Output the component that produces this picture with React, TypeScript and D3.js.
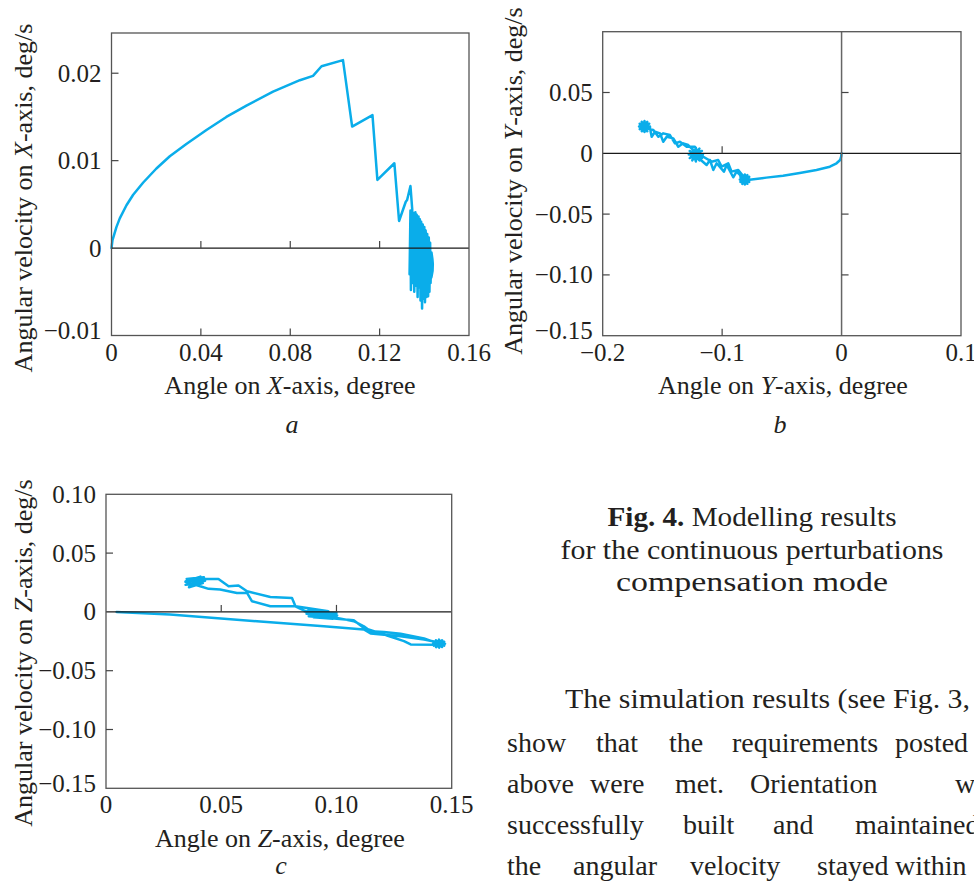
import React from 'react'
import * as d3 from 'd3'

// phase trajectories, [angle (deg), angular velocity (deg/s)]
const xPhase: [number, number][] = [
  [0, 0], [0.00045, 0.0009], [0.0022, 0.0024], [0.0037, 0.0034], [0.0067, 0.0049], [0.0097, 0.0061],
  [0.0142, 0.0075], [0.0201, 0.0091], [0.0261, 0.0105], [0.0335, 0.0119], [0.0425, 0.0135],
  [0.0514, 0.015], [0.0604, 0.0163], [0.0723, 0.0179], [0.0843, 0.0192], [0.0902, 0.0197],
  [0.094, 0.0208], [0.1036, 0.0215], [0.1077, 0.0139], [0.1168, 0.0152], [0.119, 0.0078],
  [0.1266, 0.0097], [0.1287, 0.0031], [0.1317, 0.0053], [0.1323, 0.0055], [0.1338, 0.0071],
  [0.1346, 0.0044], [0.1334, -0.003], [0.1338, 0.0043], [0.134, -0.0048], [0.1345, 0.0042],
  [0.1348, -0.004], [0.1352, 0.004], [0.1355, -0.005], [0.136, 0.0041], [0.1363, -0.0043],
  [0.1366, 0.0038], [0.137, -0.0056], [0.1374, 0.0036], [0.1377, -0.0045], [0.138, 0.0033],
  [0.1383, -0.006], [0.1386, 0.003], [0.139, -0.0069], [0.1393, 0.0027], [0.1396, -0.0058],
  [0.14, 0.0024], [0.1403, -0.0062], [0.1406, 0.002], [0.141, -0.0056], [0.1413, 0.0016],
  [0.1417, -0.0055], [0.142, 0.0012], [0.1423, -0.005], [0.1426, 0.0006], [0.1428, -0.004],
  [0.1432, -0.0005], [0.1436, -0.0012], [0.1438, -0.0018], [0.1437, -0.0026], [0.1432, -0.0033],
  [0.1427, -0.0036],
]

const yPhase: [number, number][] = [
  [0, 0], [-0.0003, -0.0025], [-0.0012, -0.0055], [-0.0042, -0.0082], [-0.0098, -0.011],
  [-0.021, -0.0137], [-0.035, -0.0162], [-0.049, -0.0184], [-0.063, -0.02], [-0.077, -0.0217],
  // dwell near (-0.081, -0.0215)
  [-0.0768, -0.0215], [-0.0852, -0.0215], [-0.0773, -0.0194], [-0.0847, -0.0236],
  [-0.0789, -0.0179], [-0.0831, -0.0251], [-0.081, -0.0174], [-0.081, -0.0256],
  [-0.0831, -0.0179], [-0.0789, -0.0251], [-0.0847, -0.0194], [-0.0773, -0.0236],
  [-0.0851, -0.0178], [-0.0879, -0.0151], [-0.0907, -0.0197], [-0.0962, -0.0096], [-0.0985, -0.0151],
  [-0.1046, -0.0082], [-0.1074, -0.0137], [-0.1102, -0.0055], [-0.113, -0.0096], [-0.1186, -0.0049],
  // dwell near (-0.122, -0.001)
  [-0.1161, -0.001], [-0.1279, -0.001], [-0.1169, 0.0019], [-0.1271, -0.0039],
  [-0.119, 0.0039], [-0.125, -0.0059], [-0.122, 0.0047], [-0.122, -0.0067],
  [-0.125, 0.0039], [-0.119, -0.0059], [-0.1271, 0.0019], [-0.1169, -0.0039],
  [-0.1242, 0.0027], [-0.1284, 0.0068], [-0.1326, 0.0082], [-0.1367, 0.0054], [-0.1409, 0.0123],
  [-0.1464, 0.0136], [-0.1493, 0.0095], [-0.152, 0.0164], [-0.1562, 0.0177], [-0.159, 0.0136],
  [-0.1604, 0.0205],
  // dwell near (-0.165, 0.022)
  [-0.1604, 0.022], [-0.1696, 0.022], [-0.161, 0.0243], [-0.169, 0.0198],
  [-0.1627, 0.0259], [-0.1673, 0.0181], [-0.165, 0.0265], [-0.165, 0.0175],
  [-0.1673, 0.0259], [-0.1627, 0.0181], [-0.169, 0.0243], [-0.161, 0.0198],
  [-0.1576, 0.0191], [-0.1534, 0.0136], [-0.1493, 0.0164], [-0.1437, 0.015], [-0.1395, 0.0082],
  [-0.1353, 0.0095], [-0.1297, 0.0054], [-0.1228, 0.0054], [-0.12, 0], [-0.122, -0.003],
  [-0.1158, -0.0028], [-0.1088, -0.0069], [-0.1033, -0.0055], [-0.1004, -0.011], [-0.0949, -0.0082],
  [-0.0921, -0.0151], [-0.0865, -0.0137], [-0.0809, -0.0205],
]

const zPhase: [number, number][] = [
  [0.0046, 0], [0.0278, -0.0023], [0.0655, -0.008], [0.0945, -0.0122], [0.1119, -0.015],
  [0.1148, -0.0184], [0.1278, -0.0207], [0.138, -0.0235],
  // dwell near (0.1445, -0.027)
  [0.1471, -0.027], [0.1419, -0.027], [0.14675, -0.0253], [0.14225, -0.0287],
  [0.1458, -0.0241], [0.1432, -0.0299], [0.1445, -0.0236], [0.1445, -0.0304],
  [0.1432, -0.0241], [0.1458, -0.0299], [0.14225, -0.0253], [0.14675, -0.0287],
  [0.138, -0.0225], [0.1278, -0.0185], [0.1206, -0.017], [0.1148, -0.0164], [0.1119, -0.0122],
  [0.1075, -0.0079], [0.1003, -0.0051], [0.0945, -0.004],
  // dwell near (0.093, -0.002)
  [0.0862, 0.0005], [0.1, -0.001], [0.087, -0.0015], [0.1003, -0.003], [0.088, -0.003],
  [0.1, -0.005], [0.09, -0.0045], [0.0985, -0.0058], [0.0875, 0.001], [0.0965, 0.0005],
  [0.0822, 0.0048], [0.0713, 0.0048], [0.0633, 0.0091], [0.0612, 0.0161], [0.0568, 0.0161],
  [0.0495, 0.019], [0.0445, 0.0196], [0.0409, 0.0218],
  // dwell near (0.038, 0.0255)
  [0.0345, 0.0255], [0.0425, 0.0295], [0.035, 0.028], [0.043, 0.0265], [0.0345, 0.023],
  [0.042, 0.0245], [0.036, 0.021], [0.041, 0.03], [0.0345, 0.026], [0.0425, 0.027],
  [0.0409, 0.028], [0.0488, 0.028], [0.0532, 0.0218], [0.0575, 0.0224], [0.0612, 0.0175],
  [0.0713, 0.0127], [0.0807, 0.0119], [0.0822, 0.0048], [0.0851, 0.002],
  [0.092, -0.004], [0.098, -0.001], [0.088, -0.0037], [0.1075, -0.0071], [0.1119, -0.0136],
  [0.1206, -0.0192], [0.1293, -0.0249], [0.1322, -0.0277], [0.144, -0.028], [0.1455, -0.0255],
]

const aXTicks = [0, 0.04, 0.08, 0.12, 0.16]
const aXLabels = ['0', '0.04', '0.08', '0.12', '0.16']
const aYTicks = [-0.01, 0, 0.01, 0.02]
const aYLabels = ['\u22120.01', '0', '0.01', '0.02']

const bXTicks = [-0.2, -0.1, 0, 0.1]
const bXLabels = ['\u22120.2', '\u22120.1', '0', '0.1']
const bYTicks = [-0.15, -0.1, -0.05, 0, 0.05]
const bYLabels = ['\u22120.15', '\u22120.10', '\u22120.05', '0', '0.05']

const cXTicks = [0, 0.05, 0.1, 0.15]
const cXLabels = ['0', '0.05', '0.10', '0.15']
const cYTicks = [-0.15, -0.1, -0.05, 0, 0.05, 0.1]
const cYLabels = ['\u22120.15', '\u22120.10', '\u22120.05', '0', '0.05', '0.10']

const captionLines = ['for the continuous perturbations', 'compensation mode']
const bodyFirst = 'The simulation results (see Fig. 3,'
const bodyRows = [
  ['show', 'that', 'the', 'requirements', 'posted'],
  ['above', 'were', 'met.', 'Orientation', 'was'],
  ['successfully', 'built', 'and', 'maintained'],
  ['the', 'angular', 'velocity', 'stayed', 'within'],
]
// word start positions of the justified rows (px)
const bodyWordX = [
  [507, 596, 669, 732, 895],
  [507, 590, 675, 750, 955],
  [507, 683, 773, 855],
  [507, 573, 690, 817, 895],
]

const FONT = 'Liberation Serif, DejaVu Serif, serif'
const CYAN = '#0aadea'
const TL = 7

function Panel(props: any) {
  const { box, xDomain, yDomain, data, xTicks, xLabels, yTicks, yLabels,
    leftTicks, zeroTicks, bottomTicks, vZeroTicks, vZero, axisLetter, yTitle, xTitle, letter } = props
  const x = d3.scaleLinear().domain(xDomain).range([box.l, box.r])
  const y = d3.scaleLinear().domain(yDomain).range([box.b, box.t])
  const line = d3.line<[number, number]>().x(d => x(d[0])).y(d => y(d[1]))
  return (
    <g style={{ fontFamily: FONT }} fill="#231f20">
      <path d={line(data) || ''} fill="none" stroke={CYAN} strokeWidth={2.5} strokeLinejoin="round" strokeLinecap="round" />
      <line x1={box.l} x2={box.r} y1={y(0)} y2={y(0)} stroke="#1a1a1a" strokeWidth={1.3} />
      {vZero && <line x1={x(0)} x2={x(0)} y1={box.t} y2={box.b} stroke="#666" strokeWidth={1.5} />}
      <rect x={box.l} y={box.t} width={box.r - box.l} height={box.b - box.t} fill="none" stroke="#555" strokeWidth={1.3} />
      {leftTicks.map((v: number) => (
        <line key={'l' + v} x1={box.l} x2={box.l + TL} y1={y(v)} y2={y(v)} stroke="#444" strokeWidth={1.2} />
      ))}
      {zeroTicks.map((v: number) => (
        <line key={'z' + v} x1={x(v)} x2={x(v)} y1={y(0)} y2={y(0) - TL} stroke="#444" strokeWidth={1.2} />
      ))}
      {bottomTicks.map((v: number) => (
        <line key={'b' + v} x1={x(v)} x2={x(v)} y1={box.b} y2={box.b - TL} stroke="#444" strokeWidth={1.2} />
      ))}
      {vZeroTicks.map((v: number) => (
        <line key={'v' + v} x1={x(0)} x2={x(0) + TL} y1={y(v)} y2={y(v)} stroke="#444" strokeWidth={1.2} />
      ))}
      {xTicks.map((v: number, i: number) => (
        <text key={'xt' + v} x={x(v)} y={box.b + 25} fontSize={25} textAnchor="middle">{xLabels[i]}</text>
      ))}
      {yTicks.map((v: number, i: number) => (
        <text key={'yt' + v} x={box.l - 10} y={Math.min(y(v), box.b - 5)} dy="0.34em" fontSize={25} textAnchor="end">{yLabels[i]}</text>
      ))}
      <text transform={`translate(${yTitle.x},${yTitle.y}) rotate(-90)`} fontSize={26} textAnchor="middle">
        Angular velocity on <tspan fontStyle="italic">{axisLetter}</tspan>-axis, deg/s
      </text>
      <text x={xTitle.x} y={xTitle.y} fontSize={26} textAnchor="middle">
        Angle on <tspan fontStyle="italic">{axisLetter}</tspan>-axis, degree
      </text>
      <text x={letter.x} y={letter.y} fontSize={26} fontStyle="italic" textAnchor="middle">{letter.t}</text>
    </g>
  )
}

export default function App() {
  return (
    <svg width={974} height={881} style={{ position: 'absolute', left: 0, top: 0, background: '#fff' }}>
      <Panel box={{ l: 111.5, r: 469, t: 33, b: 335.5 }} xDomain={[0, 0.16]} yDomain={[-0.01, 0.0246]}
        data={xPhase} xTicks={aXTicks} xLabels={aXLabels} yTicks={aYTicks} yLabels={aYLabels}
        leftTicks={[0.01, 0.02]} zeroTicks={[0.04, 0.08, 0.12]} bottomTicks={[0.04, 0.08, 0.12]}
        vZeroTicks={[]} vZero={false} axisLetter="X"
        yTitle={{ x: 32, y: 198 }} xTitle={{ x: 290, y: 394 }} letter={{ x: 292, y: 433, t: 'a' }} />
      <Panel box={{ l: 602.7, r: 961, t: 31.7, b: 335.7 }} xDomain={[-0.2, 0.1]} yDomain={[-0.15, 0.1]}
        data={yPhase} xTicks={bXTicks} xLabels={bXLabels} yTicks={bYTicks} yLabels={bYLabels}
        leftTicks={[0.05, -0.05, -0.1]} zeroTicks={[-0.1]} bottomTicks={[-0.1]}
        vZeroTicks={[0.05, -0.05, -0.1]} vZero={true} axisLetter="Y"
        yTitle={{ x: 522, y: 181 }} xTitle={{ x: 783, y: 394 }} letter={{ x: 780, y: 433, t: 'b' }} />
      <Panel box={{ l: 106, r: 451.7, t: 494.3, b: 788.3 }} xDomain={[0, 0.15]} yDomain={[-0.15, 0.1]}
        data={zPhase} xTicks={cXTicks} xLabels={cXLabels} yTicks={cYTicks} yLabels={cYLabels}
        leftTicks={[0.05, -0.05, -0.1]} zeroTicks={[0.05, 0.1]} bottomTicks={[]}
        vZeroTicks={[]} vZero={false} axisLetter="Z"
        yTitle={{ x: 32, y: 653 }} xTitle={{ x: 280, y: 847 }} letter={{ x: 281, y: 874, t: 'c' }} />

      <g style={{ fontFamily: FONT }} fill="#231f20" fontSize={27}>
        <text x={752} y={526} textAnchor="middle" textLength={289} lengthAdjust="spacingAndGlyphs">
          <tspan fontWeight="bold">Fig. 4.</tspan> Modelling results
        </text>
        {captionLines.map((t, i) => (
          <text key={t} x={752} y={559 + i * 32} textAnchor="middle" textLength={i === 0 ? 383 : 272}
            lengthAdjust="spacingAndGlyphs">{t}</text>
        ))}
      </g>
      <g style={{ fontFamily: FONT }} fill="#231f20" fontSize={28}>
        <text x={565} y={708} textLength={405} lengthAdjust="spacingAndGlyphs">{bodyFirst}</text>
        {bodyRows.map((row, r) => row.map((w, k) => (
          <text key={r + '-' + k} x={bodyWordX[r][k]} y={752 + r * 41}>{w}</text>
        )))}
      </g>
    </svg>
  )
}
